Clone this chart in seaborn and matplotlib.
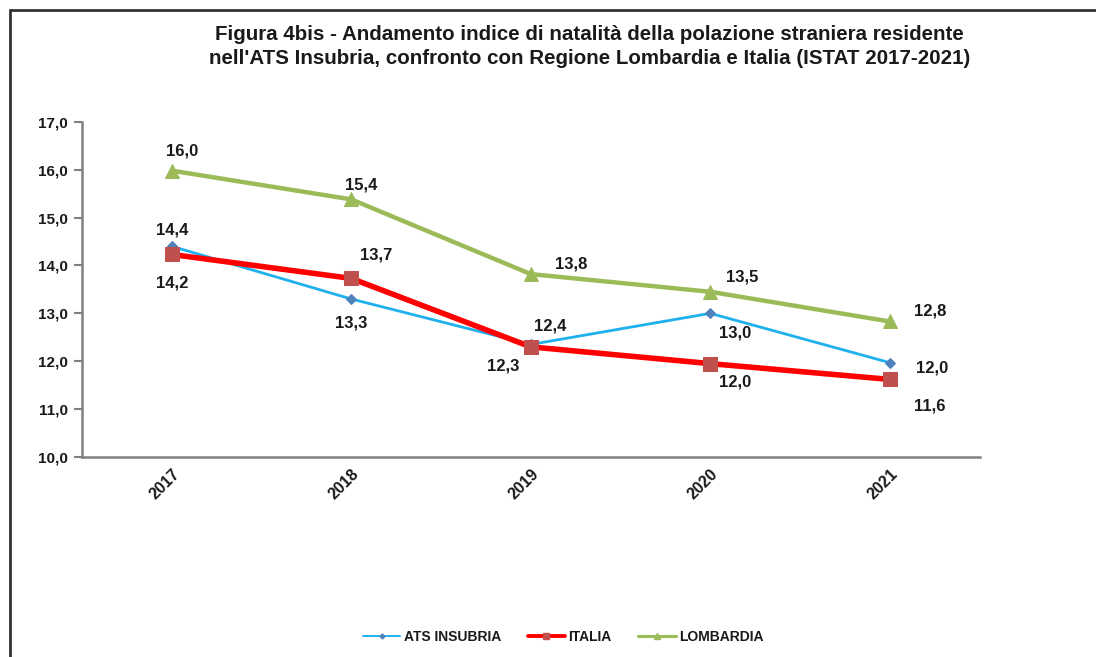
import pandas as pd
import matplotlib.pyplot as plt
import matplotlib as mpl
from matplotlib.lines import Line2D
from matplotlib.ticker import FixedLocator
import seaborn as sns

years = ["2017", "2018", "2019", "2020", "2021"]
ats_insubria = [14.4, 13.3, 12.35, 13.0, 11.97]
italia = [14.23, 13.73, 12.3, 11.95, 11.62]
lombardia = [15.98, 15.38, 13.82, 13.45, 12.83]
ats_labels = ["14,4", "13,3", "12,4", "13,0", "12,0"]
italia_labels = ["14,2", "13,7", "12,3", "12,0", "11,6"]
lombardia_labels = ["16,0", "15,4", "13,8", "13,5", "12,8"]

df = pd.DataFrame({"anno": years * 3,
                   "valore": ats_insubria + italia + lombardia,
                   "serie": ["ATS INSUBRIA"] * 5 + ["ITALIA"] * 5 + ["LOMBARDIA"] * 5})

sns.set_style("white")
plt.rcParams['font.family'] = ['Liberation Sans', 'DejaVu Sans']
plt.rcParams['font.weight'] = 'bold'

fig = plt.figure(figsize=(10.96, 6.57), dpi=100)
ax = fig.add_axes([0.0748, 0.3044, 0.819, 0.5102])

styles = {
    "ATS INSUBRIA": dict(color="#1fb0ee", lw=2, marker="D", ms=5, mfc="#4f81bd", mec="#4f81bd"),
    "ITALIA": dict(color="#ff0000", lw=4, marker="s", ms=10, mfc="#c0504d", mec="#c0504d"),
    "LOMBARDIA": dict(color="#9bbb59", lw=3.2, marker="^", ms=10, mfc="#9bbb59", mec="#9bbb59"),
}
for name, st in styles.items():
    sub = df[df["serie"] == name]
    sns.lineplot(data=sub, x="anno", y="valore", ax=ax, color=st["color"], lw=st["lw"],
                 marker=st["marker"], markersize=st["ms"], markerfacecolor=st["mfc"],
                 markeredgecolor=st["mec"], legend=False, zorder=3)

# label offsets in pixels (dx, dy), dy positive up
ats_off = [(0, 16), (0, -24), (19, 18), (25, -20), (42, -5)]
ita_off = [(0, -29), (25, 23), (-28, -19), (25, -18), (40, -27)]
lom_off = [(10, 20), (10, 14), (40, 10), (32, 15), (40, 10)]
for vals, labs, offs in [(ats_insubria, ats_labels, ats_off),
                         (italia, italia_labels, ita_off),
                         (lombardia, lombardia_labels, lom_off)]:
    for i, (v, lab, off) in enumerate(zip(vals, labs, offs)):
        ax.annotate(lab, (i, v), xytext=off, textcoords="offset pixels",
                    ha="center", va="center", fontsize=12, fontweight="bold",
                    color="#1a1a1a")

ax.set_xlim(-0.5, 4.5)
ax.set_ylim(10, 17)
ax.set_yticks(range(10, 18))
ax.set_yticklabels([f"{v},0" for v in range(10, 18)], fontsize=11, fontweight="bold",
                   color="#1a1a1a")
ax.set_xticks(range(5))
ax.set_xticklabels(years, rotation=45, ha="right", va="top", rotation_mode="anchor",
                   fontsize=11.5, fontweight="bold", color="#1a1a1a")
ax.xaxis.set_minor_locator(FixedLocator([0.5, 1.5, 2.5, 3.5, 4.5]))
ax.tick_params(axis="x", which="major", length=0, pad=7)
ax.tick_params(axis="x", which="minor", length=5, width=1.5, color="#808080", direction="out")
ax.tick_params(axis="y", length=6, width=1.5, color="#808080", direction="out", left=True, pad=4)
ax.set_xlabel("")
ax.set_ylabel("")
sns.despine(ax=ax)
for s in ["left", "bottom"]:
    ax.spines[s].set_color("#808080")
    ax.spines[s].set_linewidth(1.8)

fig.text(0.538, 0.929, "Figura 4bis - Andamento indice di natalità della polazione straniera residente\n"
         "nell'ATS Insubria, confronto con Regione Lombardia e Italia (ISTAT 2017-2021)",
         ha="center", va="center", fontsize=14.8, fontweight="bold", color="#1a1a1a",
         linespacing=1.32)

handles = [Line2D([], [], color=st["color"], lw=st["lw"] * 0.7, marker=st["marker"],
                  ms=st["ms"] * 0.5, mfc=st["mfc"], mec=st["mec"]) for st in styles.values()]
leg = fig.legend(handles, list(styles.keys()), loc="center", bbox_to_anchor=(0.514, 0.03),
                 ncol=3, frameon=False, handlelength=2.7, columnspacing=1.9, handletextpad=0.25,
                 prop={"size": 10, "weight": "bold"})
for t in leg.get_texts():
    t.set_color("#1a1a1a")

# outer frame (left and top edges)
fig.add_artist(Line2D([0.0095, 0.0095], [0, 0.985], transform=fig.transFigure, color="#333333", lw=2))
fig.add_artist(Line2D([0.0095, 1], [0.985, 0.985], transform=fig.transFigure, color="#333333", lw=2))

fig.savefig("out.png", dpi=100)
